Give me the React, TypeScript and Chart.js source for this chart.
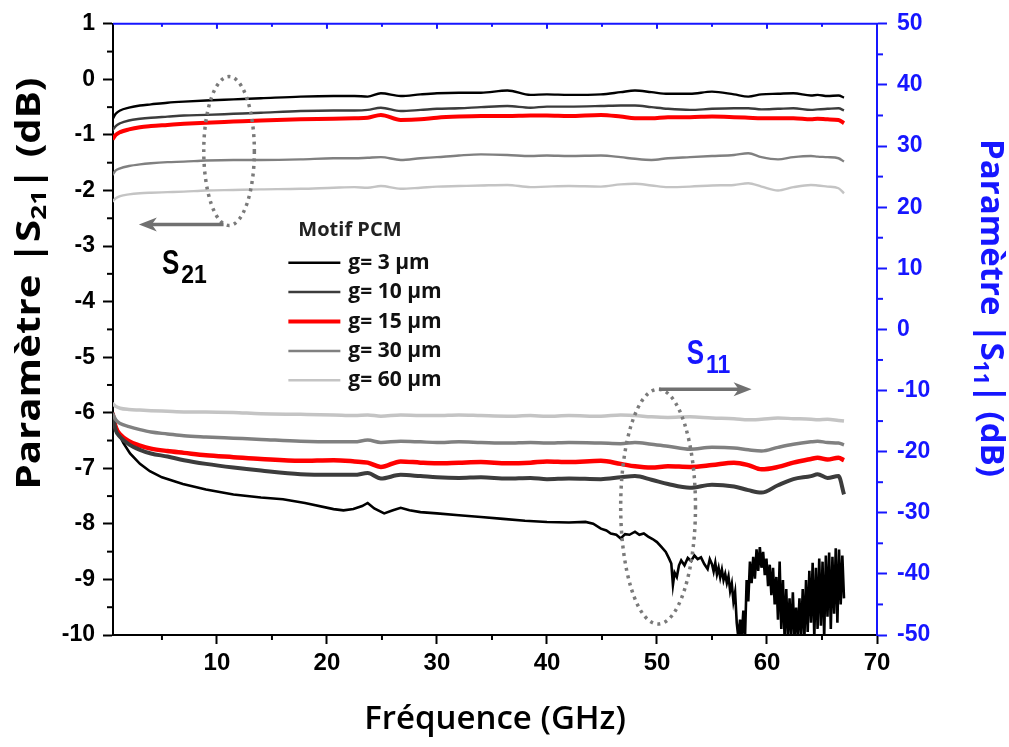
import React, { useEffect, useRef } from "react";
import { Chart, registerables } from "chart.js";

Chart.register(...registerables);

// ---------- DATA ----------
const freqA = [0.5, 0.8, 1.2, 2, 3, 4, 5.5, 7, 9, 11.5, 14, 17.6, 20.6, 22.5, 23.7, 24.9, 26.7, 28.5, 30, 32, 34, 36.4, 38.5, 40, 42, 44.9, 46.7, 48, 49.5, 51, 53, 55, 57, 58.3, 59.5, 61, 62.4, 64, 64.6, 65.5, 66.5, 67];

// |S21| (dB), left axis
const s21G3 = [-0.72, -0.62, -0.56, -0.51, -0.47, -0.45, -0.42, -0.40, -0.38, -0.36, -0.34, -0.31, -0.30, -0.30, -0.31, -0.25, -0.30, -0.27, -0.25, -0.24, -0.24, -0.20, -0.28, -0.27, -0.28, -0.27, -0.23, -0.20, -0.23, -0.26, -0.26, -0.22, -0.27, -0.31, -0.27, -0.26, -0.25, -0.29, -0.28, -0.30, -0.29, -0.33];
const s21G10 = [-0.92, -0.84, -0.79, -0.74, -0.71, -0.69, -0.67, -0.65, -0.64, -0.62, -0.60, -0.57, -0.56, -0.56, -0.55, -0.51, -0.57, -0.55, -0.53, -0.52, -0.50, -0.48, -0.51, -0.49, -0.49, -0.48, -0.47, -0.47, -0.50, -0.53, -0.55, -0.53, -0.52, -0.52, -0.54, -0.53, -0.52, -0.55, -0.54, -0.53, -0.52, -0.56];
const s21G15 = [-1.08, -1.0, -0.95, -0.9, -0.86, -0.84, -0.82, -0.80, -0.78, -0.76, -0.74, -0.72, -0.71, -0.70, -0.69, -0.64, -0.73, -0.72, -0.69, -0.67, -0.66, -0.66, -0.65, -0.65, -0.66, -0.64, -0.67, -0.70, -0.70, -0.68, -0.68, -0.67, -0.68, -0.69, -0.70, -0.70, -0.70, -0.72, -0.71, -0.72, -0.73, -0.79];
const s21G30 = [-1.72, -1.64, -1.6, -1.56, -1.53, -1.51, -1.49, -1.48, -1.46, -1.45, -1.45, -1.44, -1.42, -1.42, -1.41, -1.40, -1.45, -1.42, -1.40, -1.37, -1.35, -1.36, -1.38, -1.37, -1.38, -1.37, -1.40, -1.43, -1.45, -1.42, -1.40, -1.38, -1.36, -1.33, -1.40, -1.44, -1.40, -1.38, -1.39, -1.40, -1.42, -1.48];
const s21G60 = [-2.20, -2.14, -2.10, -2.07, -2.05, -2.04, -2.03, -2.02, -2.00, -1.99, -1.98, -1.97, -1.95, -1.94, -1.95, -1.92, -1.97, -1.95, -1.93, -1.92, -1.91, -1.90, -1.94, -1.93, -1.92, -1.93, -1.89, -1.88, -1.91, -1.94, -1.93, -1.91, -1.90, -1.87, -1.93, -2.00, -1.94, -1.90, -1.91, -1.93, -1.96, -2.05];

// |S11| (dB), right axis
const s11G10 = [-13.7, -16.5, -17.6, -18.8, -19.7, -20.3, -20.8, -21.4, -22.0, -22.6, -23.1, -23.7, -23.8, -23.8, -23.5, -24.4, -23.8, -24.0, -24.2, -24.3, -24.2, -24.4, -24.3, -24.5, -24.4, -24.5, -24.2, -24.0, -24.6, -25.3, -25.9, -25.4, -25.7, -26.3, -26.7, -25.5, -24.5, -24.0, -23.7, -24.3, -24.0, -27.0];
const s11G15 = [-13.7, -16.0, -17.2, -18.3, -19.0, -19.5, -19.9, -20.2, -20.6, -20.9, -21.2, -21.5, -21.4, -21.6, -21.8, -22.5, -21.6, -21.8, -21.9, -21.8, -21.7, -21.9, -21.8, -21.6, -21.7, -21.5, -22.0, -22.4, -22.6, -22.4, -22.5, -22.2, -21.8, -22.2, -22.9, -22.5, -21.8, -21.2, -21.0, -21.3, -21.0, -21.4];
const s11G30 = [-13.7, -14.8, -15.4, -15.9, -16.4, -16.8, -17.1, -17.4, -17.6, -17.8, -18.0, -18.3, -18.4, -18.4, -18.1, -18.5, -18.3, -18.4, -18.5, -18.4, -18.5, -18.6, -18.5, -18.6, -18.5, -18.6, -18.7, -18.5, -18.8, -19.1, -19.6, -19.3, -19.4, -19.7, -19.9, -19.3, -18.8, -18.4, -18.3, -18.5, -18.6, -18.9];
const s11G60 = [-12.1, -12.6, -12.9, -13.1, -13.2, -13.3, -13.4, -13.5, -13.5, -13.6, -13.8, -13.9, -14.0, -14.1, -14.0, -14.2, -14.0, -14.1, -14.1, -14.0, -14.1, -14.2, -14.1, -14.2, -14.1, -14.2, -14.0, -14.1, -14.3, -14.4, -14.3, -14.5, -14.6, -14.8, -14.7, -14.5, -14.6, -14.7, -14.8, -14.7, -14.9, -15.0];

// |S11| g=3 µm as [GHz, dB] pairs (noisy trace)
const s11G3Pairs: [number, number][] = [
  [0.5, -13.7], [0.7, -15.2], [1, -16.8], [1.5, -18.6], [2.1, -20.3], [3, -22.0], [3.9, -23.2], [5, -24.2], [6.9, -25.3], [9, -26.2],
  [11.5, -27.0], [14, -27.5], [16, -27.8], [18, -28.4], [20.6, -29.4], [21.5, -29.6], [22.4, -29.4], [23.2, -28.9], [23.7, -28.4], [24.3, -29.3],
  [25.2, -30.1], [26, -29.6], [26.7, -29.2], [27.5, -29.6], [28.5, -29.9], [30, -30.1], [32, -30.4], [34, -30.7], [36, -31.0], [38, -31.3],
  [40, -31.5], [42, -31.6], [43.5, -31.5], [44.2, -31.8], [44.9, -32.6], [45.4, -32.9], [45.8, -33.4], [46.3, -33.6], [46.7, -34.2], [47.1, -33.5],
  [47.5, -33.6], [48.0, -33.1], [48.4, -33.6], [48.8, -33.4], [49.2, -33.9], [49.6, -34.3], [50.0, -34.8], [50.4, -35.6], [50.8, -36.4], [51.1, -37.5],
  [51.3, -38.3], [51.45, -41.8], [51.6, -39.8], [51.8, -40.5], [52.0, -38.6], [52.2, -37.8], [52.5, -38.6], [52.8, -37.4], [53.1, -37.9], [53.4, -37.0],
  [53.7, -37.6], [54.0, -37.3], [54.3, -38.4], [54.6, -39.2], [54.8, -37.6], [55.0, -38.4], [55.15, -39.6], [55.3, -38.2], [55.45, -40.1], [55.6, -39.0],
  [55.75, -40.6], [55.9, -39.3], [56.05, -41.0], [56.2, -40.0], [56.35, -41.5], [56.5, -40.4], [56.65, -42.8], [56.8, -41.6], [56.95, -44.5], [57.1, -43.0],
  [57.25, -48.0], [57.4, -50.5], [57.55, -47.5], [57.7, -50.5], [57.85, -46.0], [58.0, -50.5], [58.15, -41.0], [58.3, -44.5], [58.45, -38.0], [58.6, -41.5],
  [58.75, -37.2], [58.9, -40.8], [59.05, -36.0], [59.2, -39.5], [59.35, -35.6], [59.5, -39.0], [59.65, -36.4], [59.8, -40.2], [59.95, -37.5], [60.1, -42.0],
  [60.25, -38.5], [60.4, -43.5], [60.55, -39.0], [60.7, -45.0], [60.85, -40.5], [61.0, -47.5], [61.15, -38.0], [61.3, -49.0], [61.45, -41.0], [61.6, -50.5],
  [61.75, -42.5], [61.9, -50.5], [62.05, -44.0], [62.2, -50.5], [62.35, -43.0], [62.5, -50.5], [62.65, -45.5], [62.8, -50.5], [62.95, -44.0], [63.1, -50.5],
  [63.25, -42.5], [63.4, -50.5], [63.55, -41.0], [63.7, -49.5], [63.85, -39.5], [64.0, -48.0], [64.15, -38.2], [64.3, -50.5], [64.45, -39.0], [64.6, -49.0],
  [64.75, -37.5], [64.9, -48.5], [65.05, -38.0], [65.2, -50.5], [65.35, -37.0], [65.5, -47.0], [65.65, -36.5], [65.8, -49.0], [65.95, -37.2], [66.1, -46.5],
  [66.25, -35.8], [66.4, -48.0], [66.55, -36.0], [66.7, -45.0], [66.85, -37.0], [67.0, -44.0],
];

const seriesLabels = ["g= 3 µm", "g= 10 µm", "g= 15 µm", "g= 30 µm", "g= 60 µm"];
const seriesColors = ["#000000", "#3c3c3c", "#ff0000", "#808080", "#c4c4c4"];
const xTickValues = [10, 20, 30, 40, 50, 60, 70];
const legendTitle = "Motif PCM";

// ---------- STYLE ----------
const BLUE = "#1616ff";
const TICK_FONT = "'Liberation Sans', Arial, sans-serif";
const TITLE_FONT = "'Open Sans', sans-serif";

const toPts = (xs: number[], ys: number[]) => xs.map((x, i) => ({ x, y: ys[i] }));

function drawSubText(ctx: any, main: string, sub: string, rest: string, size: number, subSize: number, subShift: number, targetLen: number | null) {
  ctx.font = `bold ${size}px ${TITLE_FONT}`;
  const w1 = ctx.measureText(main).width;
  const w3 = ctx.measureText(rest).width;
  ctx.font = `bold ${subSize}px ${TITLE_FONT}`;
  const w2 = ctx.measureText(sub).width;
  const total = w1 + w2 + w3;
  const sx = targetLen ? targetLen / total : 1;
  ctx.scale(sx, 1);
  let x = -total / 2;
  ctx.textBaseline = "middle";
  ctx.textAlign = "left";
  ctx.font = `bold ${size}px ${TITLE_FONT}`;
  ctx.fillText(main, x, 0);
  x += w1;
  ctx.font = `bold ${subSize}px ${TITLE_FONT}`;
  ctx.fillText(sub, x, subShift);
  x += w2;
  ctx.font = `bold ${size}px ${TITLE_FONT}`;
  ctx.fillText(rest, x, 0);
}

function drawSLabel(ctx: any, x: number, y: number, sub: string, color: string) {
  ctx.save();
  ctx.fillStyle = color;
  ctx.textAlign = "left";
  ctx.textBaseline = "alphabetic";
  ctx.translate(x, y);
  ctx.save();
  ctx.scale(1, 1.35);
  ctx.font = `bold 26px ${TICK_FONT}`;
  ctx.fillText("S", 0, 0);
  const w = ctx.measureText("S").width;
  ctx.restore();
  ctx.save();
  ctx.translate(w + 2, 9);
  ctx.scale(1, 1.15);
  ctx.font = `bold 23px ${TICK_FONT}`;
  ctx.fillText(sub, 0, 0);
  ctx.restore();
  ctx.restore();
}

function arrow(ctx: any, x1: number, x2: number, y: number) {
  const dir = x2 > x1 ? 1 : -1;
  ctx.save();
  ctx.strokeStyle = "#707070";
  ctx.fillStyle = "#707070";
  ctx.lineWidth = 3.5;
  ctx.beginPath();
  ctx.moveTo(x1, y);
  ctx.lineTo(x2 - dir * 12, y);
  ctx.stroke();
  ctx.beginPath();
  ctx.moveTo(x2, y);
  ctx.lineTo(x2 - dir * 18, y - 7);
  ctx.lineTo(x2 - dir * 13, y);
  ctx.lineTo(x2 - dir * 18, y + 7);
  ctx.closePath();
  ctx.fill();
  ctx.restore();
}

function dottedEllipse(ctx: any, cx: number, cy: number, rx: number, ry: number) {
  ctx.save();
  ctx.strokeStyle = "#7a7a7a";
  ctx.lineWidth = 3.5;
  ctx.setLineDash([3, 4.5]);
  ctx.beginPath();
  ctx.ellipse(cx, cy, rx, ry, 0, 0, Math.PI * 2);
  ctx.stroke();
  ctx.restore();
}

const decorPlugin = {
  id: "decor",
  afterDraw(chart: any) {
    const { ctx, chartArea: ca, scales } = chart;
    const xs = scales.x, yl = scales.y, yr = scales.y1;
    ctx.save();

    // top axis (blue)
    ctx.strokeStyle = BLUE;
    ctx.lineWidth = 2;
    ctx.beginPath();
    ctx.moveTo(ca.left, ca.top);
    ctx.lineTo(ca.right + 1, ca.top);
    ctx.stroke();
    for (let v = 5; v <= 70; v += 5) {
      const px = xs.getPixelForValue(v);
      const len = v % 10 === 0 ? 5 : 3;
      ctx.beginPath();
      ctx.moveTo(px, ca.top);
      ctx.lineTo(px, ca.top + len);
      ctx.stroke();
    }

    // minor ticks
    ctx.lineWidth = 2;
    ctx.strokeStyle = "#000";
    for (let v = 5; v < 70; v += 10) {
      const px = xs.getPixelForValue(v);
      ctx.beginPath();
      ctx.moveTo(px, ca.bottom);
      ctx.lineTo(px, ca.bottom + 5);
      ctx.stroke();
    }
    for (let v = -9.5; v < 1; v += 1) {
      const py = yl.getPixelForValue(v);
      ctx.beginPath();
      ctx.moveTo(ca.left - 6, py);
      ctx.lineTo(ca.left, py);
      ctx.stroke();
    }
    ctx.strokeStyle = BLUE;
    for (let v = -45; v < 50; v += 10) {
      const py = yr.getPixelForValue(v);
      ctx.beginPath();
      ctx.moveTo(ca.right, py);
      ctx.lineTo(ca.right + 6, py);
      ctx.stroke();
    }

    // y titles
    ctx.save();
    ctx.fillStyle = "#000";
    ctx.translate(30, (yl.getPixelForValue(0.05) + yl.getPixelForValue(-7.4)) / 2);
    ctx.rotate(-Math.PI / 2);
    drawSubText(ctx, "Paramètre |S", "21", "| (dB)", 34, 22, 10, 412);
    ctx.restore();

    ctx.save();
    ctx.fillStyle = BLUE;
    ctx.translate(990, (yr.getPixelForValue(31) + yr.getPixelForValue(-24)) / 2);
    ctx.rotate(Math.PI / 2);
    drawSubText(ctx, "Paramètre |S", "11", "| (dB)", 33, 21, 10, 338);
    ctx.restore();

    // S21 annotation
    dottedEllipse(ctx, xs.getPixelForValue(11.1), yl.getPixelForValue(-1.29), xs.getPixelForValue(11.1) - xs.getPixelForValue(8.8), yl.getPixelForValue(-2.63) - yl.getPixelForValue(-1.29));
    arrow(ctx, xs.getPixelForValue(10.6), xs.getPixelForValue(2.9), yl.getPixelForValue(-2.61));
    drawSLabel(ctx, xs.getPixelForValue(5.0), yl.getPixelForValue(-3.51), "21", "#000");

    // S11 annotation
    dottedEllipse(ctx, xs.getPixelForValue(50.1), yr.getPixelForValue(-29.0), xs.getPixelForValue(50.1) - xs.getPixelForValue(46.7), yr.getPixelForValue(-48.2) - yr.getPixelForValue(-29.0));
    arrow(ctx, xs.getPixelForValue(50.2), xs.getPixelForValue(58.6), yr.getPixelForValue(-9.8));
    drawSLabel(ctx, xs.getPixelForValue(52.7), yr.getPixelForValue(-5.6), "11", BLUE);

    // legend
    const lx = xs.getPixelForValue(17.4);
    const ly = yl.getPixelForValue(-2.67);
    ctx.fillStyle = "#222";
    ctx.textAlign = "left";
    ctx.textBaseline = "alphabetic";
    ctx.font = `bold 20px ${TITLE_FONT}`;
    ctx.fillText(legendTitle, lx, ly + 8);
    const widths = [2.5, 2.5, 4, 2.5, 2.5];
    seriesLabels.forEach((lab, i) => {
      const rowY = ly + 35 + i * 29.4;
      ctx.strokeStyle = seriesColors[i];
      ctx.lineWidth = widths[i];
      ctx.beginPath();
      ctx.moveTo(lx - 10, rowY);
      ctx.lineTo(lx + 42, rowY);
      ctx.stroke();
      ctx.fillStyle = "#111";
      ctx.font = `bold 21px ${TITLE_FONT}`;
      ctx.fillText(lab, lx + 50, rowY + 6);
    });

    ctx.restore();
  },
};

export default function App() {
  const ref = useRef<HTMLCanvasElement>(null);
  useEffect(() => {
    document.body.style.margin = "0";
    const canvas = ref.current as HTMLCanvasElement;
    const s21 = [s21G3, s21G10, s21G15, s21G30, s21G60];
    const s21Widths = [2.4, 2.4, 4, 2.4, 2.4];
    const datasets: any[] = [];
    // S11 (right axis)
    datasets.push({
      label: "S11 " + seriesLabels[4], data: toPts(freqA, s11G60), yAxisID: "y1",
      borderColor: seriesColors[4], borderWidth: 3.5, pointRadius: 0, cubicInterpolationMode: "monotone",
    });
    datasets.push({
      label: "S11 " + seriesLabels[3], data: toPts(freqA, s11G30), yAxisID: "y1",
      borderColor: seriesColors[3], borderWidth: 3.5, pointRadius: 0, cubicInterpolationMode: "monotone",
    });
    datasets.push({
      label: "S11 " + seriesLabels[1], data: toPts(freqA, s11G10), yAxisID: "y1",
      borderColor: seriesColors[1], borderWidth: 4, pointRadius: 0, cubicInterpolationMode: "monotone",
    });
    datasets.push({
      label: "S11 " + seriesLabels[2], data: toPts(freqA, s11G15), yAxisID: "y1",
      borderColor: seriesColors[2], borderWidth: 4.5, pointRadius: 0, cubicInterpolationMode: "monotone",
    });
    datasets.push({
      label: "S11 " + seriesLabels[0], data: s11G3Pairs.map(([x, y]) => ({ x, y })), yAxisID: "y1",
      borderColor: seriesColors[0], borderWidth: 2.6, pointRadius: 0, tension: 0,
    });
    [4, 3, 1, 2, 0].forEach((i) => {
      datasets.push({
        label: "S21 " + seriesLabels[i], data: toPts(freqA, s21[i]), yAxisID: "y",
        borderColor: seriesColors[i], borderWidth: s21Widths[i], pointRadius: 0, cubicInterpolationMode: "monotone",
      });
    });

    const chart = new Chart(canvas, {
      type: "line",
      data: { datasets },
      options: {
        animation: false,
        responsive: false,
        layout: { padding: { top: 20, left: 0, right: 0, bottom: 0 } },
        plugins: { legend: { display: false }, tooltip: { enabled: false } },
        scales: {
          x: {
            type: "linear",
            min: 0.55,
            max: 70,
            afterBuildTicks: (s: any) => { s.ticks = xTickValues.map((v) => ({ value: v })); },
            afterFit: (s: any) => { s.height = 112; },
            grid: { drawOnChartArea: false, drawTicks: true, tickLength: 9, tickWidth: 2, tickColor: "#000" },
            border: { display: true, color: "#000", width: 2 },
            ticks: { color: "#000", font: { family: TICK_FONT, size: 24, weight: "bold" }, padding: 5, maxRotation: 0, autoSkip: false },
            title: { display: true, text: "Fréquence (GHz)", color: "#000", font: { family: TITLE_FONT, size: 33, weight: 600 }, padding: { top: 0, bottom: 8 } },
          },
          y: {
            type: "linear",
            position: "left",
            min: -10,
            max: 1,
            afterFit: (s: any) => { s.width = 113; },
            grid: { drawOnChartArea: false, drawTicks: true, tickLength: 10, tickWidth: 2, tickColor: "#000" },
            border: { display: true, color: "#000", width: 2 },
            ticks: { stepSize: 1, color: "#000", font: { family: TICK_FONT, size: 23, weight: "bold" }, padding: 8 },
          },
          y1: {
            type: "linear",
            position: "right",
            min: -50,
            max: 50,
            afterFit: (s: any) => { s.width = 132; },
            grid: { drawOnChartArea: false, drawTicks: true, tickLength: 10, tickWidth: 2, tickColor: BLUE },
            border: { display: true, color: BLUE, width: 2 },
            ticks: { stepSize: 10, color: BLUE, font: { family: TICK_FONT, size: 23, weight: "bold" }, padding: 10 },
          },
        },
      } as any,
      plugins: [decorPlugin as any],
    });
    return () => chart.destroy();
  }, []);
  return (
    <div style={{ position: "relative", width: 1009, height: 747, background: "#fff" }}>
      <canvas ref={ref} width={1009} height={747} style={{ display: "block" }} />
    </div>
  );
}
